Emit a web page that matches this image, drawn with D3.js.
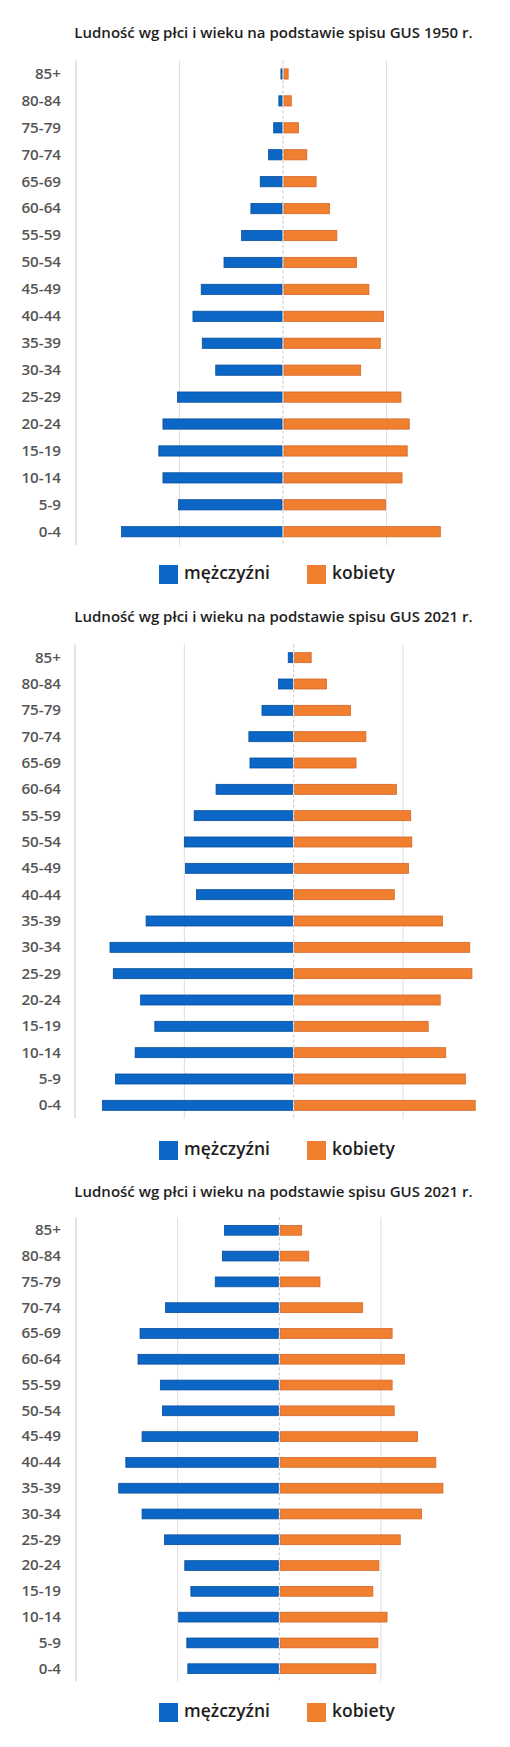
<!DOCTYPE html>
<html><head><meta charset="utf-8">
<script src="https://cdn.jsdelivr.net/npm/d3@7"></script>
<style>
html,body{margin:0;padding:0;background:#fff;}
svg{display:block;}
</style></head>
<body>
<script>
// ---- DATA ----
const categories = ["85+","80-84","75-79","70-74","65-69","60-64","55-59","50-54","45-49","40-44","35-39","30-34","25-29","20-24","15-19","10-14","5-9","0-4"];
const titles = [
  "Ludność wg płci i wieku na podstawie spisu GUS 1950 r.",
  "Ludność wg płci i wieku na podstawie spisu GUS 2021 r.",
  "Ludność wg płci i wieku na podstawie spisu GUS 2021 r."
];
const seriesNames = ["mężczyźni","kobiety"];
const menA   = [0.02,0.04,0.09,0.14,0.22,0.31,0.40,0.57,0.79,0.87,0.78,0.65,1.02,1.16,1.20,1.16,1.01,1.56];
const womenA = [0.05,0.08,0.15,0.23,0.32,0.45,0.52,0.71,0.83,0.97,0.94,0.75,1.14,1.22,1.20,1.15,0.99,1.52];
const menB   = [0.05,0.14,0.29,0.41,0.40,0.71,0.91,1.00,0.99,0.89,1.35,1.68,1.65,1.40,1.27,1.45,1.63,1.75];
const womenB = [0.16,0.30,0.52,0.66,0.57,0.94,1.07,1.08,1.05,0.92,1.36,1.61,1.63,1.34,1.23,1.39,1.57,1.66];
const menC   = [0.54,0.56,0.63,1.12,1.37,1.39,1.17,1.15,1.35,1.51,1.58,1.35,1.13,0.93,0.87,0.99,0.91,0.90];
const womenC = [0.22,0.29,0.40,0.82,1.11,1.23,1.11,1.13,1.36,1.54,1.61,1.40,1.19,0.98,0.92,1.06,0.97,0.95];
const gridTicks = [-1, 0, 1];
const xDomain = [-2, 2];

// ---- LAYOUT ----
const W = 510, H = 1747;
const colors = {men:"#0b66c6", menStroke:"#0a4f9c", women:"#f07f30", womenStroke:"#d5682a"};
const charts = [
  {title:titles[0], men:menA, women:womenA, titleY:38, x0:76, x1:490, y0:60.5, y1:545.2, legY:565},
  {title:titles[1], men:menB, women:womenB, titleY:622, x0:75, x1:512.4, y0:644.5, y1:1118.5, legY:1141},
  {title:titles[2], men:menC, women:womenC, titleY:1197, x0:76, x1:482.6, y0:1217.4, y1:1681.6, legY:1703}
];

const svg = d3.select("body").append("svg").attr("width", W).attr("height", H)
  .style("font-family", "'Open Sans', 'Noto Sans', sans-serif");
svg.append("rect").attr("width", W).attr("height", H).attr("fill", "#fff");

charts.forEach(c => {
  const g = svg.append("g");
  const x = d3.scaleLinear().domain(xDomain).range([c.x0, c.x1]);
  const y = d3.scaleBand().domain(categories).range([c.y0, c.y1]).paddingInner(0.62).paddingOuter(0.31);

  g.append("text").attr("x", 273.5).attr("y", c.titleY).attr("text-anchor", "middle")
    .attr("font-size", 15).attr("font-weight", 600).attr("fill", "#1e1e1e").text(c.title);

  // left axis line
  g.append("line").attr("x1", x(xDomain[0])).attr("x2", x(xDomain[0]))
    .attr("y1", c.y0).attr("y2", c.y1).attr("stroke", "#d8d8d8").attr("stroke-width", 1.5);
  // grid
  g.selectAll(".grid").data(gridTicks).join("line")
    .attr("x1", d => x(d)).attr("x2", d => x(d))
    .attr("y1", c.y0).attr("y2", c.y1)
    .attr("stroke", d => d === 0 ? "#c8c8c8" : "#dedede")
    .attr("stroke-width", 1)
    .attr("stroke-dasharray", d => d === 0 ? "3,2" : null);

  // category axis labels
  const yAxis = d3.axisLeft(y).tickSize(0).tickPadding(0);
  const ag = g.append("g").attr("transform", `translate(${61},0)`).call(yAxis);
  ag.select(".domain").remove();
  ag.selectAll("text").attr("font-size", 15.2).attr("font-weight", 600).attr("fill", "#555")
    .attr("font-family", "'Open Sans', sans-serif");

  const rows = categories.map((k, i) => ({k, m: c.men[i], w: c.women[i]}));
  g.selectAll(".m").data(rows).join("rect")
    .attr("x", d => x(-d.m)).attr("width", d => x(0) - 1 - x(-d.m))
    .attr("y", d => y(d.k)).attr("height", y.bandwidth())
    .attr("fill", colors.men).attr("stroke", colors.menStroke).attr("stroke-width", 0.8);
  g.selectAll(".w").data(rows).join("rect")
    .attr("x", x(0) + 1).attr("width", d => x(d.w) - x(0) - 1)
    .attr("y", d => y(d.k)).attr("height", y.bandwidth())
    .attr("fill", colors.women).attr("stroke", colors.womenStroke).attr("stroke-width", 0.8);

  // legend
  const leg = [{n: seriesNames[0], c: colors.men, x: 159}, {n: seriesNames[1], c: colors.women, x: 307}];
  leg.forEach(l => {
    g.append("rect").attr("x", l.x).attr("y", c.legY).attr("width", 19).attr("height", 19).attr("fill", l.c);
    g.append("text").attr("x", l.x + 25).attr("y", c.legY + 13.5).attr("font-size", 17.5)
      .attr("font-weight", 600).attr("fill", "#1e1e1e").text(l.n);
  });
});
</script>
</body></html>
